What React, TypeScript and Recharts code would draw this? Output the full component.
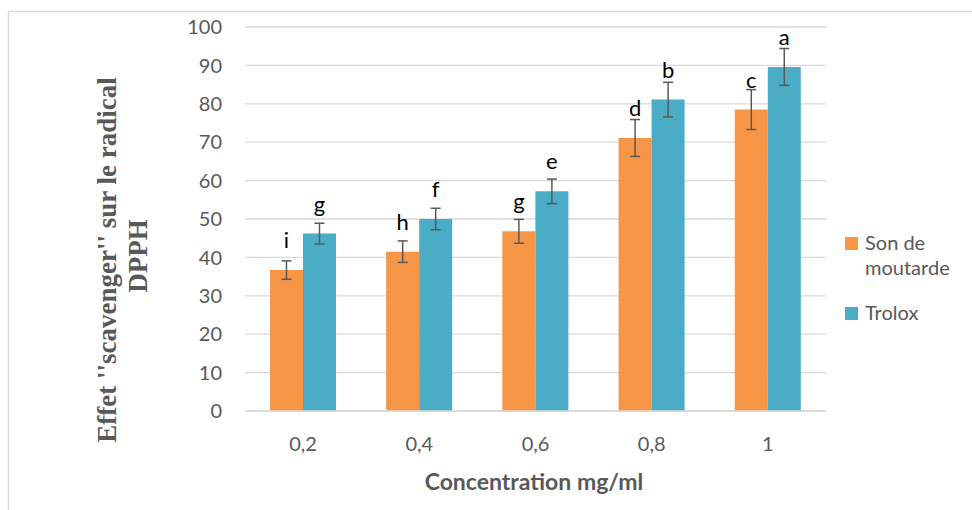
import { BarChart, Bar, XAxis, YAxis, CartesianGrid, ErrorBar, LabelList } from 'recharts';

const concentrations = ['0,2', '0,4', '0,6', '0,8', '1'];
const sonMoutarde = [36.7, 41.5, 46.8, 71.1, 78.5];
const sonMoutardeErr = [2.4, 2.8, 3.1, 4.8, 5.2];
const sonMoutardeLetters = ['i', 'h', 'g', 'd', 'c'];
const trolox = [46.2, 50.0, 57.2, 81.1, 89.6];
const troloxErr = [2.7, 2.8, 3.2, 4.5, 4.8];
const troloxLetters = ['g', 'f', 'e', 'b', 'a'];
const yTicks = [0, 10, 20, 30, 40, 50, 60, 70, 80, 90, 100];

const data = concentrations.map((c, i) => ({
  name: c,
  son: sonMoutarde[i],
  sonErr: sonMoutardeErr[i],
  sonLetter: sonMoutardeLetters[i],
  trolox: trolox[i],
  troloxErr: troloxErr[i],
  troloxLetter: troloxLetters[i],
}));

const ORANGE = '#F79646';
const TEAL = '#4BACC6';
const GREY = '#595959';
const SANS = 'Lato, "Open Sans", sans-serif';

const LetterLabel = (props: any) => {
  const { x, y, width, value } = props;
  return (
    <text x={x + width / 2} y={y - 22} textAnchor="middle" fontFamily={SANS} fontSize={22} fill="#000">
      {value}
    </text>
  );
};

const YTitle = () => (
  <g fontFamily='"Liberation Serif", "Times New Roman", serif' fontWeight="bold" fontSize={27} fill={GREY}>
    <text x={107} y={260} transform="rotate(-90, 107, 260)" textAnchor="middle" dominantBaseline="central">
      Effet ''scavenger'' sur le radical
    </text>
    <text x={138} y={256} transform="rotate(-90, 138, 256)" textAnchor="middle" dominantBaseline="central">
      DPPH
    </text>
  </g>
);

const XTitle = () => (
  <text x={534} y={481} textAnchor="middle" dominantBaseline="central" fontFamily={SANS} fontWeight="bold" fontSize={23} fill={GREY}>
    Concentration mg/ml
  </text>
);

const LegendBox = () => (
  <div style={{ fontFamily: SANS, fontSize: 20, color: GREY, lineHeight: '25px' }}>
    <div style={{ display: 'flex', alignItems: 'flex-start' }}>
      <span style={{ width: 13, height: 13, background: ORANGE, marginTop: 7, marginRight: 7, flexShrink: 0 }} />
      <span>Son de<br />moutarde</span>
    </div>
    <div style={{ display: 'flex', alignItems: 'flex-start', marginTop: 20 }}>
      <span style={{ width: 13, height: 13, background: TEAL, marginTop: 7, marginRight: 7, flexShrink: 0 }} />
      <span>Trolox</span>
    </div>
  </div>
);

const App = () => {
  return (
    <div style={{ width: 972, height: 510, position: 'relative', background: '#fff' }}>
      <style>{'body{margin:0}'}</style>
      <svg width={972} height={510} style={{ position: 'absolute', left: 0, top: 0 }}>
        <rect x={8.5} y={11.5} width={1000} height={600} fill="#fff" stroke="#D9D9D9" strokeWidth={1.5} />
      </svg>
      <div style={{ position: 'absolute', left: 0, top: 0 }}>
        <BarChart
          width={972}
          height={510}
          data={data}
          margin={{ top: 27, right: 146, bottom: 29, left: 0 }}
          barCategoryGap="21.5%"
          barGap={0}
        >
          <CartesianGrid vertical={false} stroke="#D9D9D9" strokeWidth={1.3} />
          <XAxis
            dataKey="name"
            height={70}
            axisLine={{ stroke: '#D9D9D9', strokeWidth: 1.3 }}
            tickLine={false}
            tickSize={0}
            tickMargin={26}
            tick={{ fill: GREY, fontFamily: SANS, fontSize: 20 }}
          />
          <YAxis
            width={245}
            domain={[0, 100]}
            ticks={yTicks}
            axisLine={false}
            tickLine={false}
            tickSize={0}
            tickMargin={23}
            tick={{ fill: GREY, fontFamily: SANS, fontSize: 20 }}
          />
          <Bar dataKey="son" name="Son de moutarde" fill={ORANGE} isAnimationActive={false}>
            <ErrorBar dataKey="sonErr" width={5} strokeWidth={1.5} stroke={GREY} direction="y" />
            <LabelList dataKey="sonLetter" content={LetterLabel} />
          </Bar>
          <Bar dataKey="trolox" name="Trolox" fill={TEAL} isAnimationActive={false}>
            <ErrorBar dataKey="troloxErr" width={5} strokeWidth={1.5} stroke={GREY} direction="y" />
            <LabelList dataKey="troloxLetter" content={LetterLabel} />
          </Bar>
        </BarChart>
      </div>
      <div style={{ position: 'absolute', left: 845, top: 230, width: 127 }}>
        <LegendBox />
      </div>
      <svg width={972} height={510} style={{ position: 'absolute', left: 0, top: 0, pointerEvents: 'none' }}>
        <YTitle />
        <XTitle />
      </svg>
    </div>
  );
};

export default App;
